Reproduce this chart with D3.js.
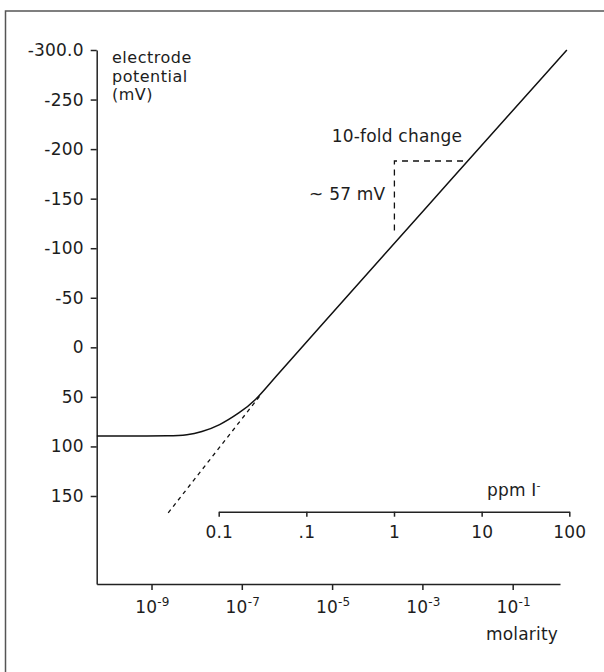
<!DOCTYPE html>
<html>
<head>
<meta charset="utf-8">
<script src="https://cdn.jsdelivr.net/npm/d3@7"></script>
<style>
  body { margin: 0; background: #fff; }
  text { font-family: "DejaVu Sans", sans-serif; font-size: 17px; letter-spacing: 0.2px; fill: #1d1d1d; }
  .axis path, .axis line { stroke: #222; stroke-width: 1.5; }
</style>
</head>
<body>
<div id="chart"></div>
<script>
// values
var potentialTicks = [-300, -250, -200, -150, -100, -50, 0, 50, 100, 150];
var potentialLabels = ["-300.0", "-250", "-200", "-150", "-100", "-50", "0", "50", "100", "150"];
var molarityExps = [-9, -7, -5, -3, -1];
var ppmTicks = [0.01, 0.1, 1, 10, 100];
var ppmLabels = ["0.1", ".1", "1", "10", "100"];

// electrode response (log molarity, mV)
var curveLogM = [-10.21, -9.3, -8.6, -8.2, -7.9, -7.5, -7.05, -6.7, -6.3, -5.53, -3.0, 0.2];
var curvePotential = [89.5, 89.5, 89.5, 88.5, 85.5, 79, 66, 54, 32, -7.4, -136.7, -300];

// extrapolated nernstian line
var tangentLogM = [-8.63, -6.6];
var tangentPotential = [167, 49];

// 10-fold step marker
var stepLogM = [-3.62, -2.04];
var stepPotential = [-118, -188];

var width = 604;
var height = 672;

var svg = d3.select("#chart")
    .append("svg")
    .attr("width", width)
    .attr("height", height);

// frame (top and left only)
svg.append("path")
    .attr("d", "M5.5," + height + "V11H" + width)
    .attr("fill", "none")
    .attr("stroke", "#555")
    .attr("stroke-width", 1.5);

var x = d3.scaleLog()
    .domain([Math.pow(10, -10.214), Math.pow(10, 0.048)])
    .range([96.7, 560]);

var y = d3.scaleLinear()
    .domain([-300, 238.8])
    .range([50, 584]);

var ppm = d3.scaleLog()
    .domain([0.01, 100])
    .range([218.7, 569.3]);

// y axis
var yAxis = svg.append("g")
    .attr("class", "axis")
    .attr("transform", "translate(96.7,0)")
    .call(d3.axisLeft(y)
        .tickValues(potentialTicks)
        .tickFormat(function(d, i) { return potentialLabels[i]; })
        .tickSize(6)
        .tickSizeOuter(0)
        .tickPadding(7));
yAxis.selectAll("text").style("font-size", "17px").style("font-family", "DejaVu Sans");

// molarity axis
var xAxis = svg.append("g")
    .attr("class", "axis")
    .attr("transform", "translate(0,584)")
    .call(d3.axisBottom(x)
        .tickValues(molarityExps.map(function(e) { return Math.pow(10, e); }))
        .tickFormat("")
        .tickSize(6)
        .tickSizeOuter(0));

var mLabels = svg.append("g")
    .selectAll("text")
    .data(molarityExps)
    .enter()
    .append("text")
    .attr("x", function(d) { return x(Math.pow(10, d)) + 1; })
    .attr("y", 613.3)
    .attr("text-anchor", "middle");
mLabels.append("tspan").text("10");
mLabels.append("tspan")
    .attr("dy", -7)
    .style("font-size", "12px")
    .text(function(d) { return String(d); });

svg.append("text")
    .attr("x", 522)
    .attr("y", 640)
    .attr("text-anchor", "middle")
    .text("molarity");

// ppm axis
var pAxis = svg.append("g")
    .attr("class", "axis")
    .attr("transform", "translate(0,511.7)")
    .call(d3.axisBottom(ppm)
        .tickValues(ppmTicks)
        .tickFormat(function(d, i) { return ppmLabels[i]; })
        .tickSize(5)
        .tickSizeOuter(0)
        .tickPadding(9));
pAxis.selectAll("text").style("font-size", "17px").style("font-family", "DejaVu Sans");

var ppmTitle = svg.append("text")
    .attr("x", 487)
    .attr("y", 496);
ppmTitle.append("tspan").text("ppm I");
ppmTitle.append("tspan")
    .attr("dy", -7)
    .style("font-size", "11px")
    .text("-");

// axis title, one text per line
["electrode", "potential", "(mV)"].forEach(function(s, i) {
    svg.append("text")
        .attr("x", 112)
        .attr("y", 63 + i * 18.7)
        .style("font-size", "16px")
        .style("letter-spacing", "0.5px")
        .text(s);
});

// curves
var line = d3.line()
    .x(function(d) { return x(Math.pow(10, d[0])); })
    .y(function(d) { return y(d[1]); })
    .curve(d3.curveBasis);

svg.append("path")
    .datum(d3.zip(curveLogM, curvePotential))
    .attr("d", line)
    .attr("fill", "none")
    .attr("stroke", "#111")
    .attr("stroke-width", 1.5);

svg.append("path")
    .datum(d3.zip(tangentLogM, tangentPotential))
    .attr("d", d3.line()
        .x(function(d) { return x(Math.pow(10, d[0])); })
        .y(function(d) { return y(d[1]); }))
    .attr("fill", "none")
    .attr("stroke", "#111")
    .attr("stroke-width", 1.3)
    .attr("stroke-dasharray", "4,4");

// step marker
var sx0 = x(Math.pow(10, stepLogM[0]));
var sx1 = x(Math.pow(10, stepLogM[1]));
var sy0 = y(stepPotential[0]);
var sy1 = y(stepPotential[1]);

svg.append("path")
    .attr("d", "M" + sx0 + "," + sy0 + "V" + sy1 + "H" + sx1)
    .attr("fill", "none")
    .attr("stroke", "#111")
    .attr("stroke-width", 1.3)
    .attr("stroke-dasharray", "6,5");

svg.append("text")
    .attr("x", sx0 - 9)
    .attr("y", 200)
    .attr("text-anchor", "end")
    .text("~ 57 mV");

svg.append("text")
    .attr("x", 331.7)
    .attr("y", 141.7)
    .text("10-fold change");
</script>
</body>
</html>
